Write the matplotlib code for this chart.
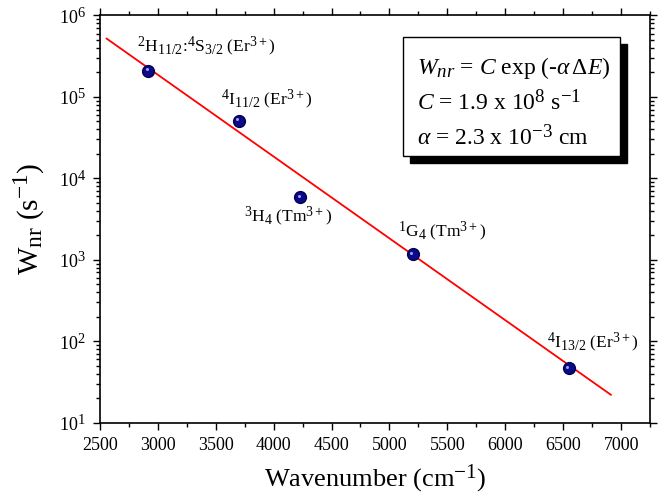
import matplotlib
matplotlib.use('Agg')
import matplotlib.pyplot as plt
from matplotlib.patches import Rectangle
from matplotlib.ticker import LogLocator, MultipleLocator, NullFormatter
import matplotlib.transforms as mtransforms

try:
    # the original uses larger sub/superscripts than mathtext's default
    import matplotlib._mathtext as _mt
    _mt.SHRINK_FACTOR = 0.8
except Exception:
    pass

plt.rcParams['font.family'] = 'Liberation Serif'
plt.rcParams['mathtext.fontset'] = 'custom'
plt.rcParams['mathtext.rm'] = 'Liberation Serif'
plt.rcParams['mathtext.it'] = 'Liberation Serif:italic'
plt.rcParams['mathtext.bf'] = 'Liberation Serif:bold'

# measured energy gaps and multiphonon rates
wavenumber = [2920, 3700, 4230, 5200, 6550]
w_nr = [2.08e5, 5.07e4, 5.86e3, 1.17e3, 46.5]
level_labels = [
    r'$^{2}\mathrm{H}_{11/2}$:$^{4}\mathrm{S}_{3/2}$ (Er$^{3+}$)',
    r'$^{4}\mathrm{I}_{11/2}$ (Er$^{3+}$)',
    r'$^{3}\mathrm{H}_{4}$ (Tm$^{3+}$)',
    r'$^{1}\mathrm{G}_{4}$ (Tm$^{3+}$)',
    r'$^{4}\mathrm{I}_{13/2}$ (Er$^{3+}$)',
]

# fitted line (energy-gap law) end points
fit_x = [2560, 6910]
fit_y = [5.2e5, 22]

# label offsets (points) from each marker
label_offsets = [(42, 17), (20, 15), (-9, -14), (21, 16), (17, 18)]

fig = plt.figure(figsize=(6.69, 4.99), dpi=100)
ax = fig.add_axes([0.149, 0.153, 0.823, 0.816])

ax.plot(fit_x, fit_y, color='red', linewidth=1.3, zorder=2)
ax.plot(wavenumber, w_nr, 'o', color='#0b0b8a', markeredgecolor='#000050',
        markersize=8.5, zorder=3)
# small specular highlight on the spheres
hl = mtransforms.offset_copy(ax.transData, fig=fig, x=-1.2, y=1.2, units='points')
ax.plot(wavenumber, w_nr, 'o', color='#a0a0f0', markeredgewidth=0,
        markersize=2.2, transform=hl, zorder=4)

for x, y, lab, off in zip(wavenumber, w_nr, level_labels, label_offsets):
    ax.annotate(lab, (x, y), xytext=off, textcoords='offset points',
                ha='center', va='center', fontsize=12.5)

ax.set_yscale('log')
ax.set_xlim(2500, 7250)
ax.set_ylim(10, 1e6)
ax.xaxis.set_major_locator(MultipleLocator(500))
ax.xaxis.set_minor_locator(MultipleLocator(250))
ax.yaxis.set_major_locator(LogLocator(base=10, numticks=10))
ax.yaxis.set_minor_locator(LogLocator(base=10, subs=range(2, 10), numticks=10))
ax.yaxis.set_minor_formatter(NullFormatter())

ax.tick_params(which='both', direction='out', top=True, right=True,
               labelsize=13, width=1)
ax.tick_params(which='major', length=5, pad=5)
ax.tick_params(which='minor', length=3)
for s in ax.spines.values():
    s.set_linewidth(1.2)

ax.set_xlabel(r'Wavenumber (cm$^{\mathrm{-1}}$)', fontsize=19, labelpad=6)
ax.set_ylabel(r'W$_{\mathrm{nr}}$ (s$^{\mathrm{-1}}$)', fontsize=21, labelpad=9)

# equation box with shadow
bx, by, bw, bh = 0.551, 0.655, 0.394, 0.291
ax.add_patch(Rectangle((bx + 0.012, by - 0.017), bw, bh, transform=ax.transAxes,
                       facecolor='black', edgecolor='black', zorder=5))
ax.add_patch(Rectangle((bx, by), bw, bh, transform=ax.transAxes,
                       facecolor='white', edgecolor='black', linewidth=1, zorder=6))
box_lines = [
    r'$W_{nr}$ = $C$ exp (-$\alpha\,\Delta E$)',
    r'$C$ = 1.9 x 10$^{8}$ s$^{-1}$',
    r'$\alpha$ = 2.3 x 10$^{-3}$ cm',
]
for i, line in enumerate(box_lines):
    ax.text(bx + 0.025, 0.872 - i * 0.085, line, transform=ax.transAxes,
            fontsize=17, ha='left', va='center', zorder=7)

fig.savefig('out.png', dpi=100)
